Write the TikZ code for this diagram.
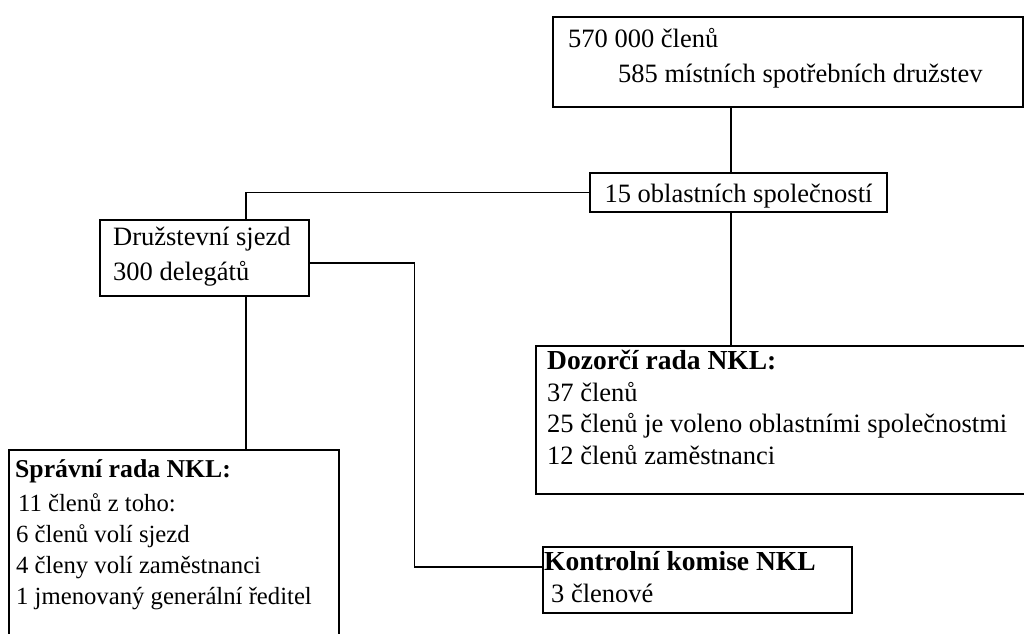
\documentclass[tikz,border=0pt]{standalone}
\usepackage{fontspec}
\setmainfont{Liberation Serif}
\usepackage{tikz}

\begin{document}
\begin{tikzpicture}[x=1pt, y=-1pt,
    ramec/.style={draw, line width=1.5pt, inner sep=0pt, anchor=north west},
    popis/.style={anchor=base west, align=left, inner sep=0pt,
        font=\fontsize{26.5}{31.5}\selectfont},
    spoj/.style={line width=1.5pt}]
    \useasboundingbox (0,0) rectangle (1024,633);
    % boxes
    \node[ramec, minimum width=470pt, minimum height=90pt] (clenove) at (552,16) {};
    \node[ramec, anchor=center, minimum width=297pt, minimum height=39pt,
        text height=20pt, text depth=1pt, font=\fontsize{26.5}{31.5}\selectfont]
        (oblasti) at (738.5,192.5) {15 oblastních společností};
    \node[ramec, minimum width=209pt, minimum height=76pt] (sjezd) at (99,219) {};
    \node[ramec, minimum width=330pt, minimum height=250pt] (sprava) at (8,449) {};
    \node[ramec, minimum width=520pt, minimum height=148pt] (dozor) at (535,345) {};
    \node[ramec, minimum width=309pt, minimum height=66pt] (kontrola) at (542,546) {};
    % texts (anchored at the baseline of the last line)
    \node[popis, font=\fontsize{26.5}{35}\selectfont] (clenove-t) at (568,82)
        {570 000 členů\\\hspace*{50pt}585 místních spotřebních družstev};
    \node[popis, font=\fontsize{26.5}{35}\selectfont] (sjezd-t) at (113,280)
        {Družstevní sjezd\\300 delegátů};
    \node[popis, font=\fontsize{24.7}{31}\selectfont] (sprava-t) at (15,604)
        {{\fontsize{25.7}{31}\selectfont\bfseries Správní rada NKL:}\\[3pt]
         \hspace*{3pt}11 členů z toho:\\
         \hspace*{1pt}6 členů volí sjezd\\
         \hspace*{1pt}4 členy volí zaměstnanci\\
         \hspace*{1pt}1 jmenovaný generální ředitel};
    \node[popis] (dozor-t) at (547,464)
        {{\fontsize{27.5}{31.5}\selectfont\bfseries Dozorčí rada NKL:}\\
         37 členů\\
         25 členů je voleno oblastními společnostmi\\
         12 členů zaměstnanci};
    \node[popis, font=\fontsize{26.5}{32}\selectfont] (kontrola-t) at (544,602)
        {{\fontsize{27.5}{32}\selectfont\bfseries Kontrolní komise NKL}\\\hspace*{7pt}3 členové};
    % connectors
    \draw[spoj] ([xshift=-7.5pt]oblasti.north) -- ([xshift=-7.5pt]oblasti.north |- clenove.south);
    \draw[spoj] (oblasti.west) -| ([xshift=41.5pt]sjezd.north);
    \draw[spoj] ([xshift=-7.5pt]oblasti.south) -- ([xshift=-7.5pt]oblasti.south |- dozor.north);
    \draw[spoj] ([xshift=41.5pt]sjezd.south) -- ([xshift=41.5pt]sjezd.south |- sprava.north);
    \draw[spoj] ([yshift=-5pt]sjezd.east) -- ++(105,0) |- ([yshift=13pt]kontrola.west);
\end{tikzpicture}
\end{document}
